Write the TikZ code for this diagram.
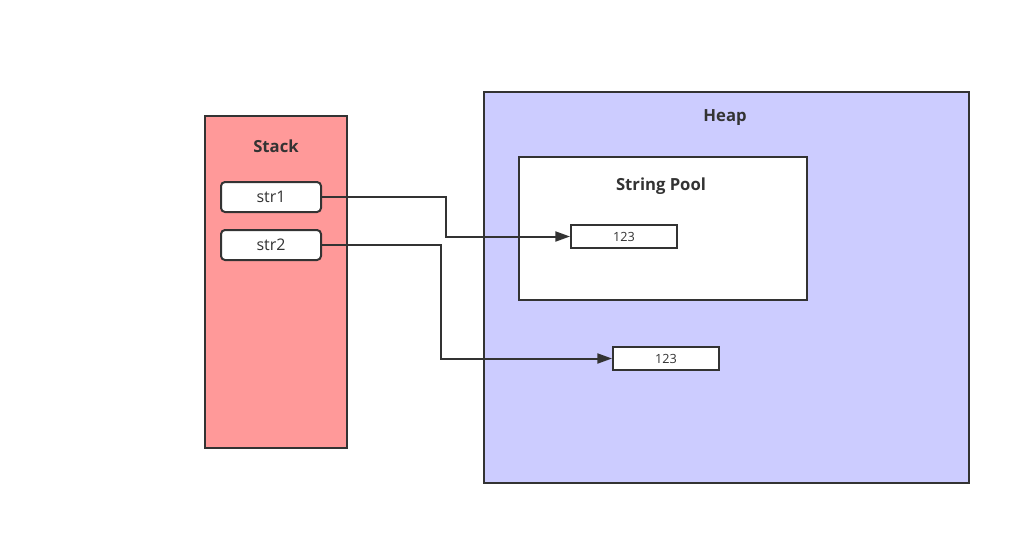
\documentclass[tikz,border=0pt]{standalone}
\usepackage{fontspec}
\setmainfont{Open Sans}
\usetikzlibrary{arrows.meta,positioning}

\definecolor{stackred}{HTML}{FF9999}
\definecolor{heapblue}{HTML}{CCCCFF}
\definecolor{linegray}{HTML}{333333}

\begin{document}
\begin{tikzpicture}[x=0.75pt,y=-0.75pt,>={Triangle[length=11pt,width=7.5pt]},
  area/.style={draw=linegray,line width=1.5pt,anchor=north west,inner sep=0pt},
  title/.style={font=\bfseries\fontsize{12.5}{14}\selectfont,text=linegray},
  ref/.style={draw=linegray,line width=1.5pt,fill=white,rounded corners=3pt,minimum width=75pt,minimum height=22.5pt,inner sep=0pt,font=\fontsize{12}{14}\selectfont,text=linegray},
  value/.style={draw=linegray,line width=1.5pt,fill=white,minimum width=79.5pt,minimum height=17.25pt,inner sep=0pt,font=\fontsize{9.5}{11}\selectfont,text=linegray},
  link/.style={->,draw=linegray,line width=1.5pt}]
  \useasboundingbox (0,0) rectangle (1030,544);

  % containers
  \node[area,fill=stackred,minimum width=106.5pt,minimum height=249pt] (stack) at (203.5,114.5) {};
  \node[area,fill=heapblue,minimum width=363.75pt,minimum height=293.25pt] (heap) at (482.5,90.5) {};
  \node[area,fill=white,minimum width=216pt,minimum height=107.25pt] (pool) at (517.5,155.5) {};

  \node[title] (stacklabel) at (276,146.5) {Stack};
  \node[title] (heaplabel)  at (725,117.5) {Heap};
  \node[title] (poollabel)  at (661,186.5) {String Pool};

  % references on the stack
  \node[ref] (str1) at (271,197) {str1};
  \node[ref] (str2) [below=36pt of str1.center,anchor=center] {str2};

  % values in the heap
  \node[value] (poolval) at (624,236.5) {123};
  \node[value] (heapval) at (666,358.5) {123};

  \draw[link] (str1.east) -- (446,197) |- (poolval.west);
  \draw[link] (str2.east) -- (441,245) |- (heapval.west);
\end{tikzpicture}
\end{document}
